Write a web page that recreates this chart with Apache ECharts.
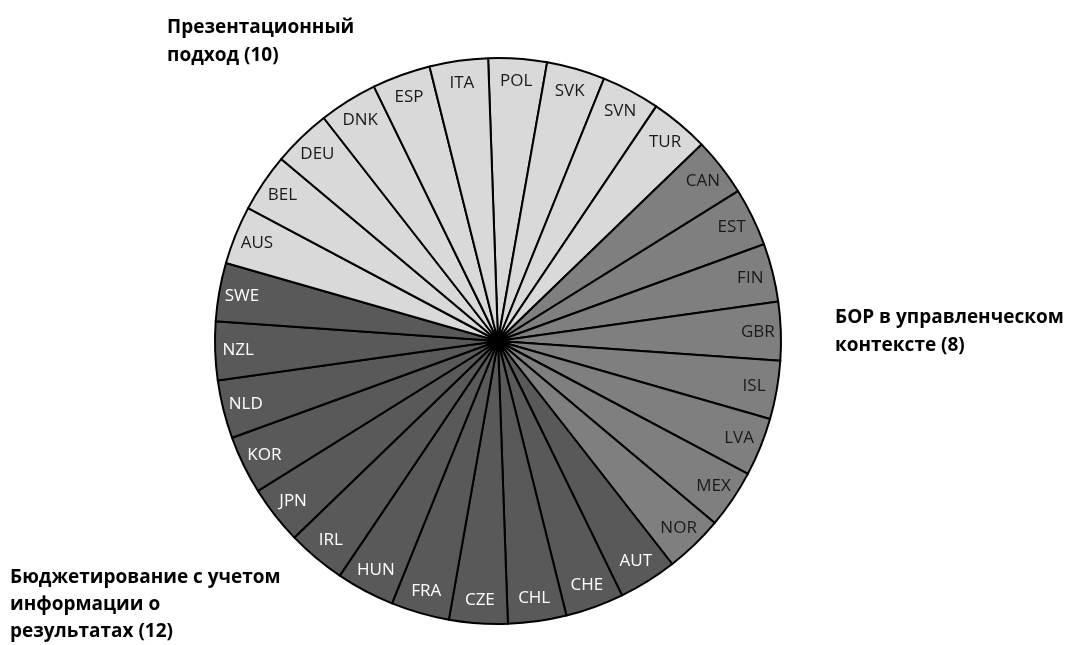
<!DOCTYPE html>
<html>
<head>
<meta charset="utf-8">
<title>Подходы к бюджетированию, ориентированному на результат</title>
<script src="https://cdn.jsdelivr.net/npm/echarts@6/dist/echarts.min.js"></script>
<style>
  html, body { margin: 0; padding: 0; background: #ffffff; }
  #chart { width: 1070px; height: 645px; }
</style>
</head>
<body>
<div id="chart"></div>
<script>
// Countries listed clockwise from the top of the circle
const countries = [
  'POL', 'SVK', 'SVN', 'TUR',
  'CAN', 'EST', 'FIN', 'GBR', 'ISL', 'LVA', 'MEX', 'NOR',
  'AUT', 'CHE', 'CHL', 'CZE', 'FRA', 'HUN', 'IRL', 'JPN', 'KOR', 'NLD', 'NZL', 'SWE',
  'AUS', 'BEL', 'DEU', 'DNK', 'ESP', 'ITA'
];
// Every country counts once
const shares = [
  1, 1, 1, 1,
  1, 1, 1, 1, 1, 1, 1, 1,
  1, 1, 1, 1, 1, 1, 1, 1, 1, 1, 1, 1,
  1, 1, 1, 1, 1, 1
];
// Approach of each country: 0 presentational, 1 managerial, 2 performance-informed
const approach = [
  0, 0, 0, 0,
  1, 1, 1, 1, 1, 1, 1, 1,
  2, 2, 2, 2, 2, 2, 2, 2, 2, 2, 2, 2,
  0, 0, 0, 0, 0, 0
];
const approachNames = [
  'Презентационный\nподход',
  'БОР в управленческом\nконтексте',
  'Бюджетирование с учетом\nинформации о\nрезультатах'
];

const fillColors = ['#d9d9d9', '#7f7f7f', '#595959'];
const textColors = ['#1a1a1a', '#1a1a1a', '#ffffff'];

// Count of countries per approach, shown in the captions
const approachCounts = approachNames.map((_, g) => approach.filter(a => a === g).length);

const center = [498, 341];
const radius = 283;
const startAngle = 92;

const sliceData = countries.map((c, i) => ({
  name: c,
  value: shares[i],
  itemStyle: { color: fillColors[approach[i]] }
}));

const labelData = countries.map((c, i) => ({
  name: c,
  value: shares[i],
  label: { color: textColors[approach[i]] }
}));

const captionFont = {
  fontFamily: '"Open Sans", sans-serif',
  fontSize: 19,
  fontWeight: 'bold',
  lineHeight: 28,
  fill: '#000000'
};

const chart = echarts.init(document.getElementById('chart'), null, { renderer: 'canvas' });
chart.setOption({
  animation: false,
  backgroundColor: '#ffffff',
  series: [
    {
      type: 'pie',
      center: center,
      radius: [0, radius],
      startAngle: startAngle,
      clockwise: true,
      silent: true,
      label: { show: false },
      labelLine: { show: false },
      itemStyle: { borderColor: '#000000', borderWidth: 2 },
      emphasis: { disabled: true },
      data: sliceData
    },
    {
      // transparent ring that carries the country codes near the rim
      type: 'pie',
      center: center,
      radius: [231, radius],
      startAngle: startAngle,
      clockwise: true,
      silent: true,
      z: 3,
      itemStyle: { color: 'rgba(0,0,0,0)', borderWidth: 0 },
      label: {
        show: true,
        position: 'inside',
        rotate: 0,
        formatter: '{b}',
        fontFamily: '"Open Sans", sans-serif',
        fontSize: 17
      },
      labelLine: { show: false },
      emphasis: { disabled: true },
      data: labelData
    }
  ],
  graphic: [
    {
      type: 'text', left: 167, top: 14,
      style: Object.assign({ text: approachNames[0] + ' (' + approachCounts[0] + ')' }, captionFont)
    },
    {
      type: 'text', left: 835, top: 304,
      style: Object.assign({ text: approachNames[1] + ' (' + approachCounts[1] + ')' }, captionFont)
    },
    {
      type: 'text', left: 10, top: 564,
      style: Object.assign({ text: approachNames[2] + ' (' + approachCounts[2] + ')' }, captionFont, { lineHeight: 27 })
    }
  ]
});
</script>
</body>
</html>
